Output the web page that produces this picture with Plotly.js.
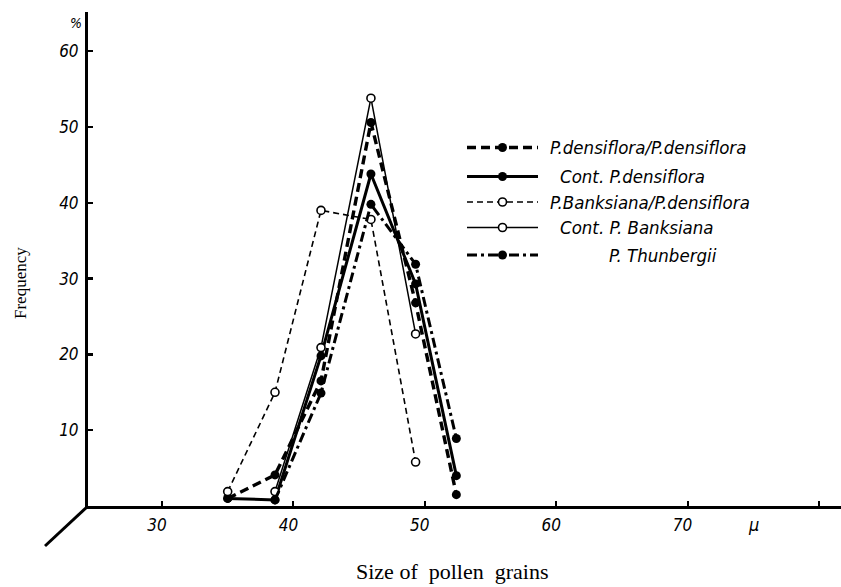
<!DOCTYPE html>
<html><head><meta charset="utf-8">
<script src="https://cdn.plot.ly/plotly-3.0.1.min.js"></script>
<style>html,body{margin:0;padding:0;background:#fff}#chart{width:841px;height:587px}</style>
</head><body><div id="chart"></div>
<script>
// ---- data ----
const sizes = [35.0, 38.6, 42.1, 45.9, 49.3, 52.4];            // pollen grain size classes (μ)
const densDens   = [1.0, 4.1, 16.5, 50.6, 26.8, 1.5];          // P.densiflora/P.densiflora
const contDens   = [1.0, 0.8, 19.8, 43.8, 29.3, 4.0];          // Cont. P.densiflora
const banksDens  = [1.9, 15.0, 39.0, 37.8, 5.8, null];         // P.Banksiana/P.densiflora
const contBanks  = [null, 1.9, 20.9, 53.8, 22.7, null];        // Cont. P. Banksiana
const thunbergii = [null, 0.8, 14.9, 39.8, 31.9, 8.9];         // P. Thunbergii
const seriesNames = ['P.densiflora/P.densiflora', 'Cont. P.densiflora', 'P.Banksiana/P.densiflora', 'Cont. P. Banksiana', 'P. Thunbergii'];
const xTickVals = [30, 40, 50, 60, 70, 80];
const xTickText = ['30', '40', '50', '60', '70', ''];
const yTickVals = [10, 20, 30, 40, 50, 60];
const yTickText = ['10', '20', '30', '40', '50', '60'];

// ---- styles ----
const seriesValues = [densDens, contDens, banksDens, contBanks, thunbergii];
const styles = [
  {width: 3.4, dash: '9px,5px', filled: true},
  {width: 3.0, dash: 'solid', filled: true},
  {width: 1.6, dash: '6px,4px', filled: false},
  {width: 1.5, dash: 'solid', filled: false},
  {width: 3.0, dash: '10px,4px,3px,4px', filled: true}
];
const handFont = "'DejaVu Sans Condensed', 'Liberation Sans Narrow', 'DejaVu Sans', sans-serif";
const serifFont = "'Liberation Serif', 'DejaVu Serif', serif";

// plot geometry (pixels)
const L = 88, T = 12, W = 753, H = 494;
const pxPerX = 13.14, pxPerY = 7.58;
const x0 = 30 - (162 - L) / pxPerX;
const xRange = [x0, x0 + W / pxPerX];
const yRange = [0, H / pxPerY];
const px = v => (v - L) / W;            // pixel x -> paper
const py = v => (T + H - v) / H;        // pixel y -> paper

function markerFor(s) {
  return s.filled
    ? {symbol: 'circle', size: 9, color: '#000', line: {color: '#000', width: 0}}
    : {symbol: 'circle', size: 8, color: '#fff', line: {color: '#000', width: 1.6}};
}

const traces = seriesValues.map((vals, i) => ({
  type: 'scatter', mode: 'lines+markers', x: sizes, y: vals, name: seriesNames[i],
  connectgaps: false, cliponaxis: false, showlegend: false,
  line: {color: '#000', width: styles[i].width, dash: styles[i].dash},
  marker: markerFor(styles[i])
}));

// hand-drawn style legend (overlay axes in pixel units)
const legRowY = [147.5, 176.5, 202, 227.5, 255];
const legTextX = [548, 558, 548, 558, 607];
const legLineX = [467, 538];
styles.forEach((s, i) => {
  traces.push({
    type: 'scatter', mode: 'lines', xaxis: 'x2', yaxis: 'y2', showlegend: false, hoverinfo: 'skip',
    x: legLineX, y: [legRowY[i], legRowY[i]], cliponaxis: false,
    line: {color: '#000', width: s.width, dash: s.dash}
  });
  traces.push({
    type: 'scatter', mode: 'markers', xaxis: 'x2', yaxis: 'y2', showlegend: false, hoverinfo: 'skip',
    x: [(legLineX[0] + legLineX[1]) / 2], y: [legRowY[i]], cliponaxis: false,
    marker: markerFor(s)
  });
});

const annotations = seriesNames.map((n, i) => ({
  xref: 'x2', yref: 'y2', x: legTextX[i], y: legRowY[i], xanchor: 'left', yanchor: 'middle',
  text: n, showarrow: false, font: {family: handFont, size: 18.5, style: 'italic', color: '#000'}
}));
annotations.push(
  {xref: 'paper', yref: 'paper', x: px(76), y: py(23), xanchor: 'center', yanchor: 'middle', text: '%', showarrow: false,
   font: {family: handFont, size: 14, style: 'italic', color: '#000'}},
  {xref: 'x', yref: 'paper', x: 75, y: py(524), xanchor: 'center', yanchor: 'middle', text: 'μ', showarrow: false,
   font: {family: handFont, size: 18, style: 'italic', color: '#000'}},
  {xref: 'paper', yref: 'paper', x: px(20), y: py(283), xanchor: 'center', yanchor: 'middle', text: 'Frequency', textangle: -90, showarrow: false,
   font: {family: serifFont, size: 17, color: '#000'}},
  {xref: 'paper', yref: 'paper', x: px(452), y: py(571), xanchor: 'center', yanchor: 'middle', text: 'Size of  pollen  grains', showarrow: false,
   font: {family: serifFont, size: 22, color: '#000'}}
);

const layout = {
  width: 841, height: 587,
  margin: {l: L, r: 841 - L - W, t: T, b: 587 - T - H, pad: 0},
  paper_bgcolor: '#fff', plot_bgcolor: '#fff',
  showlegend: false,
  xaxis: {
    range: xRange, showgrid: false, zeroline: false, showline: true, linecolor: '#000', linewidth: 3,
    tickvals: xTickVals, ticktext: xTickText, ticks: 'inside', ticklen: 5, tickwidth: 2, tickcolor: '#000',
    tickfont: {family: handFont, size: 17, style: 'italic', color: '#000'},
    ticklabelshift: -5, ticklabelstandoff: 2, fixedrange: true
  },
  yaxis: {
    range: yRange, showgrid: false, zeroline: false, showline: true, linecolor: '#000', linewidth: 3,
    tickvals: yTickVals, ticktext: yTickText, ticks: 'inside', ticklen: 5, tickwidth: 2.5, tickcolor: '#000',
    tickfont: {family: handFont, size: 17, style: 'italic', color: '#000'},
    ticklabelstandoff: 3, fixedrange: true
  },
  xaxis2: {overlaying: 'x', anchor: 'y2', range: [L, L + W], visible: false, fixedrange: true},
  yaxis2: {overlaying: 'y', anchor: 'x2', range: [T + H, T], visible: false, fixedrange: true},
  shapes: [
    {type: 'line', xref: 'paper', yref: 'paper', x0: px(L), y0: py(T + H), x1: px(45), y1: py(546),
     line: {color: '#000', width: 3}}
  ],
  annotations: annotations
};

Plotly.newPlot('chart', traces, layout, {staticPlot: true, displayModeBar: false});
</script>
</body></html>
